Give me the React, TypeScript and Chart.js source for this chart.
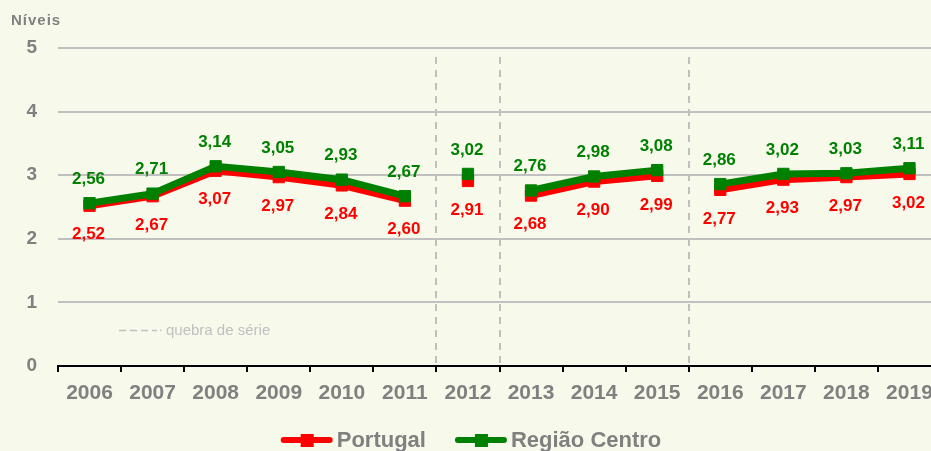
import React, { useEffect, useRef } from "react";
import { Chart, registerables } from "chart.js";

Chart.register(...registerables);

const years = ["2006", "2007", "2008", "2009", "2010", "2011", "2012", "2013", "2014", "2015", "2016", "2017", "2018", "2019"];
const portugal = [2.52, 2.67, 3.07, 2.97, 2.84, 2.6, 2.91, 2.68, 2.9, 2.99, 2.77, 2.93, 2.97, 3.02];
const centro = [2.56, 2.71, 3.14, 3.05, 2.93, 2.67, 3.02, 2.76, 2.98, 3.08, 2.86, 3.02, 3.03, 3.11];
// index of the last year before a series break
const breakAfter = [5, 6, 9];
const yMin = 0;
const yMax = 5;
const yStep = 1;

const seriesNames = ["Portugal", "Região Centro"];
const RED = "#FF0000";
const GREEN = "#008000";
const GRAY = "#808080";
const LIGHT = "#C0C0C0";
const FONT = "'Liberation Sans', Arial, sans-serif";
const BG = "#F7F9EB";
const CANVAS_W = 950;

const fmt = (v: number) => v.toFixed(2).replace(".", ",");

const extrasPlugin = {
  id: "extras",
  beforeDatasetsDraw(chart: any) {
    const { ctx, chartArea, scales } = chart;
    const x = scales.x;
    ctx.save();
    ctx.strokeStyle = LIGHT;
    ctx.lineWidth = 2;
    ctx.setLineDash([7, 6]);
    breakAfter.forEach((i) => {
      const px = Math.round((x.getPixelForValue(i) + x.getPixelForValue(i + 1)) / 2);
      ctx.beginPath();
      ctx.moveTo(px, chartArea.top + 9);
      ctx.lineTo(px, chartArea.bottom);
      ctx.stroke();
    });
    // "quebra de série" note
    const y = scales.y.getPixelForValue(0.56);
    const lx = chartArea.left + 61;
    ctx.lineWidth = 1.5;
    ctx.setLineDash([7, 4]);
    ctx.beginPath();
    ctx.moveTo(lx, y);
    ctx.lineTo(lx + 38, y);
    ctx.stroke();
    ctx.setLineDash([]);
    ctx.fillStyle = LIGHT;
    ctx.fillRect(lx + 41, y - 0.75, 1.5, 1.5);
    ctx.font = `15px ${FONT}`;
    ctx.textBaseline = "middle";
    ctx.textAlign = "left";
    ctx.fillStyle = LIGHT;
    ctx.fillText("quebra de série", lx + 47, y);
    ctx.restore();
  },
  afterDatasetsDraw(chart: any) {
    const { ctx } = chart;
    ctx.save();
    ctx.font = `bold 17px ${FONT}`;
    ctx.textAlign = "center";
    ctx.textBaseline = "middle";
    chart.data.datasets.forEach((ds: any, di: number) => {
      const meta = chart.getDatasetMeta(di);
      const above = ds.label === seriesNames[1];
      ctx.fillStyle = ds.borderColor;
      meta.data.forEach((pt: any, i: number) => {
        const v = ds.data[i];
        ctx.fillText(fmt(v), pt.x - 1, pt.y + (above ? -24 : 29));
      });
    });
    ctx.restore();
  },
  afterDraw(chart: any) {
    const { ctx } = chart;
    ctx.save();
    // Níveis
    ctx.font = `bold 15px ${FONT}`;
    (ctx as any).letterSpacing = "1px";
    ctx.fillStyle = GRAY;
    ctx.textAlign = "left";
    ctx.textBaseline = "middle";
    ctx.fillText("Níveis", 11, 21);
    (ctx as any).letterSpacing = "0px";
    // legend
    const items = [
      { label: seriesNames[0], color: RED },
      { label: seriesNames[1], color: GREEN },
    ];
    ctx.font = `bold 22px ${FONT}`;
    const lineW = 52;
    const gapText = 4;
    const gapItem = 29;
    const widths = items.map((it) => lineW + gapText + ctx.measureText(it.label).width);
    const total = widths.reduce((a, b) => a + b, 0) + gapItem * (items.length - 1);
    let cx = 471 - total / 2;
    const ly = 440;
    items.forEach((it, k) => {
      ctx.strokeStyle = it.color;
      ctx.lineWidth = 6;
      ctx.lineCap = "round";
      ctx.beginPath();
      ctx.moveTo(cx + 3, ly);
      ctx.lineTo(cx + lineW - 3, ly);
      ctx.stroke();
      ctx.fillStyle = it.color;
      ctx.fillRect(cx + lineW / 2 - 6, ly - 6, 13, 13);
      ctx.fillStyle = GRAY;
      ctx.fillText(it.label, cx + lineW + gapText, ly + 1);
      cx += widths[k] + gapItem;
    });
    ctx.restore();
  },
};

const makeDataset = (label: string, data: number[], color: string) => ({
  label,
  data,
  borderColor: color,
  backgroundColor: color,
  borderWidth: 7,
  pointStyle: "rect",
  pointRadius: 8,
  pointBorderWidth: 1,
  pointBorderColor: color,
  pointBackgroundColor: color,
  tension: 0,
  segment: {
    borderColor: (c: any) => (breakAfter.includes(c.p0DataIndex) ? "rgba(0,0,0,0)" : color),
  },
});

export default function App() {
  const ref = useRef<HTMLCanvasElement | null>(null);
  useEffect(() => {
    if (!ref.current) return;
    const chart = new Chart(ref.current, {
      type: "line",
      data: {
        labels: years,
        datasets: [
          makeDataset(seriesNames[1], centro, GREEN),
          makeDataset(seriesNames[0], portugal, RED),
        ],
      },
      options: {
        responsive: false,
        animation: false,
        devicePixelRatio: 1,
        layout: { padding: { top: 48, left: 0, right: 0, bottom: 0 } },
        plugins: { legend: { display: false }, tooltip: { enabled: false } },
        scales: {
          x: {
            type: "category",
            offset: true,
            grid: {
              offset: true,
              drawOnChartArea: false,
              drawTicks: true,
              tickLength: 6,
              color: "#000",
              lineWidth: 2,
            },
            border: { color: "#000", width: 2 },
            ticks: {
              color: GRAY,
              font: { family: FONT, size: 21, weight: "bold" },
              padding: 9,
              maxRotation: 0,
              autoSkip: false,
            },
            afterFit: (s: any) => {
              s.height = 85;
              s.paddingRight = 0;
              s.paddingLeft = 0;
            },
          },
          y: {
            min: yMin,
            max: yMax,
            ticks: {
              stepSize: yStep,
              color: GRAY,
              font: { family: FONT, size: 19, weight: "bold" },
              padding: 21,
            },
            grid: {
              color: (c: any) => (c.tick && c.tick.value === 0 ? "rgba(0,0,0,0)" : LIGHT),
              lineWidth: 2,
              drawTicks: false,
            },
            border: { display: false },
            afterFit: (s: any) => {
              s.width = 58;
            },
          },
        },
      } as any,
      plugins: [extrasPlugin],
    });
    return () => chart.destroy();
  }, []);
  return (
    <div
      style={{
        position: "fixed",
        left: 0,
        top: 0,
        width: 931,
        height: 451,
        overflow: "hidden",
        background: BG,
      }}
    >
      <canvas
        ref={ref}
        width={CANVAS_W}
        height={451}
        style={{ display: "block", width: CANVAS_W + "px", height: "451px", maxWidth: "none" }}
      />
    </div>
  );
}
